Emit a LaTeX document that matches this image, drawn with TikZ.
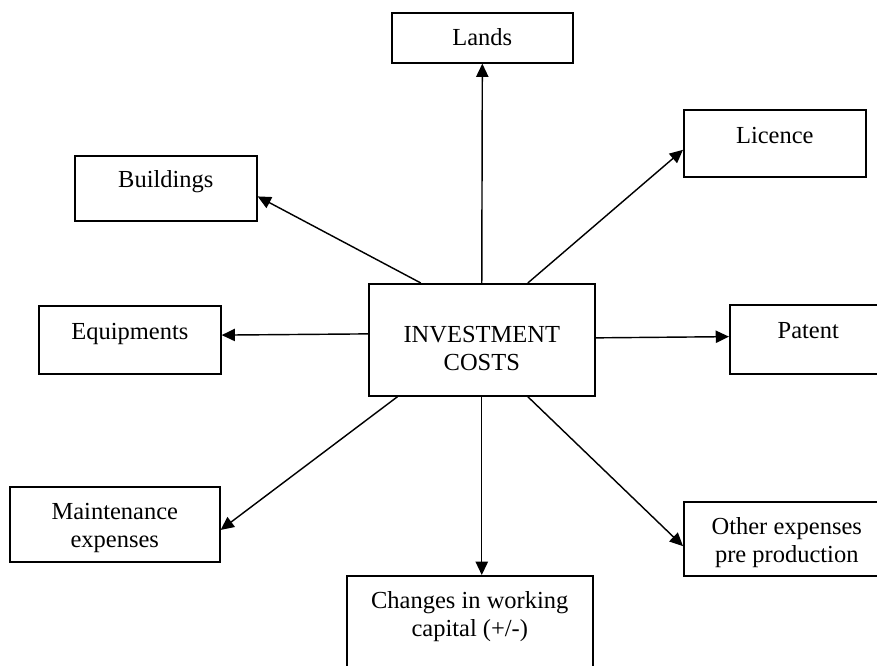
\documentclass[tikz,border=0pt]{standalone}
\usepackage{fontspec}
\setmainfont{Liberation Serif}
\usetikzlibrary{arrows.meta}

\tikzset{
  costbox/.style={draw, line width=0.8pt, inner sep=0pt, anchor=north west,
    font=\fontsize{12}{13.7}\selectfont},
  costarrow/.style={line width=0.7pt, -{Triangle[length=6.5pt, width=6pt]}}
}
\newcommand{\twolines}[2]{\begin{tabular}[t]{@{}c@{}}#1\\#2\end{tabular}}

\begin{document}
\begin{tikzpicture}[x=0.49pt, y=-0.49pt]
  \useasboundingbox (0,0) rectangle (877,665);
  \clip (0,0) rectangle (877,665);
  % boxes
  \node[costbox, minimum width=110.7pt, text height=28.9pt, text depth=26pt] (invest) at (368,283) {\twolines{INVESTMENT}{COSTS}};
  \node[costbox, minimum width=88.7pt, text height=16.2pt, text depth=8.3pt] (lands) at (391,12) {Lands};
  \node[costbox, minimum width=89.2pt, text height=16.7pt, text depth=16.2pt] (licence) at (683,109) {Licence};
  \node[costbox, minimum width=89.2pt, text height=15.7pt, text depth=16.2pt] (buildings) at (74,155) {Buildings};
  \node[costbox, minimum width=89.2pt, text height=16.7pt, text depth=16.7pt] (equip) at (38,305) {Equipments};
  \node[costbox, minimum width=76.9pt, text height=16.7pt, text depth=17.2pt] (patent) at (729,304) {Patent};
  \node[costbox, minimum width=102.9pt, text height=16.2pt, text depth=20.6pt] (maint) at (9,486) {\twolines{Maintenance}{expenses}};
  \node[costbox, minimum width=100.9pt, text height=16.2pt, text depth=20.1pt] (other) at (683,501) {\twolines{Other expenses}{pre production}};
  \node[costbox, minimum width=120.5pt, text height=16.2pt, text depth=39.2pt] (changes) at (346,575) {\twolines{Changes in working}{capital (+/-)}};
  % arrows
  \draw[costarrow] (invest.north) -- (lands.south);
  \draw[costarrow] (invest.51) -- (licence.184);
  \draw[costarrow] (invest.137) -- (buildings.-5);
  \draw[costarrow] (invest.177.5) -- (equip.3);
  \draw[costarrow] (invest.1.5) -- (patent.178);
  \draw[costarrow] (invest.214) -- (maint.-3.5);
  \draw[costarrow] (invest.south) -- (invest.south |- changes.north);
  \draw[costarrow] (invest.-51) -- (other.184.4);
\end{tikzpicture}
\end{document}
